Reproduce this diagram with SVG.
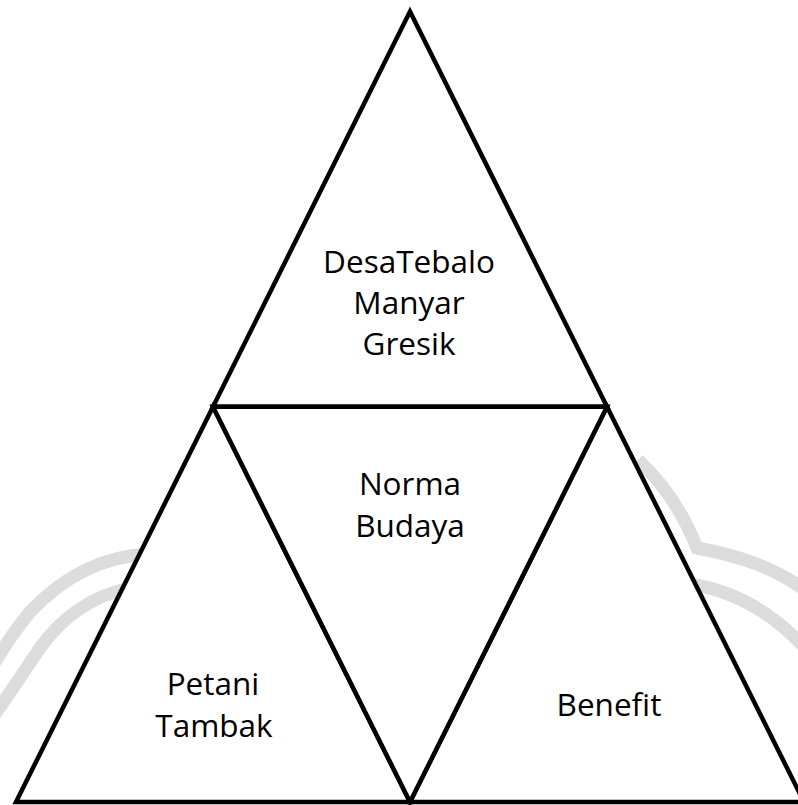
<svg xmlns="http://www.w3.org/2000/svg" width="798" height="805" viewBox="0 0 798 805">
  <style>
    .tri { fill: #ffffff; stroke: #000000; stroke-width: 4.5; stroke-linejoin: miter; }
    .lbl { font-family: "Open Sans", "Liberation Sans", sans-serif; font-size: 31.5px; fill: #000000; text-anchor: middle; }
    .wm { fill: none; stroke: #dcdcdc; stroke-width: 13; stroke-linecap: butt; }
  </style>
  <rect x="0" y="0" width="798" height="805" fill="#ffffff"/>
  <g id="watermark">
    <path class="wm" d="M 150 554 C 100 556 60 580 30 612 C 15 630 5 645 -5 662"/>
    <path class="wm" d="M 130 588 C 90 596 60 620 40 648 C 25 670 12 690 -5 714"/>
    <path class="wm" d="M 638 460 C 660 480 682 510 697 548 C 740 556 775 568 805 590"/>
    <path class="wm" d="M 690 584 C 730 590 770 610 805 648"/>
  </g>
  <g id="connectors"></g>
  <g id="node-top">
    <polygon class="tri" points="410,11.5 213,406.75 607,406.75"/>
    <text class="lbl" x="409" y="273">DesaTebalo<tspan x="409" y="314">Manyar</tspan><tspan x="409" y="355">Gresik</tspan></text>
  </g>
  <g id="node-left">
    <polygon class="tri" points="213,406.75 16,802 410,802"/>
    <text class="lbl" x="213" y="695">Petani<tspan x="214" y="737">Tambak</tspan></text>
  </g>
  <g id="node-right">
    <polygon class="tri" points="607,406.75 410,802 804,802"/>
    <text class="lbl" x="609" y="716">Benefit</text>
  </g>
  <g id="node-middle">
    <polygon class="tri" points="213,406.75 607,406.75 410,802"/>
    <text class="lbl" x="410" y="495">Norma<tspan x="410" y="537">Budaya</tspan></text>
  </g>
</svg>
